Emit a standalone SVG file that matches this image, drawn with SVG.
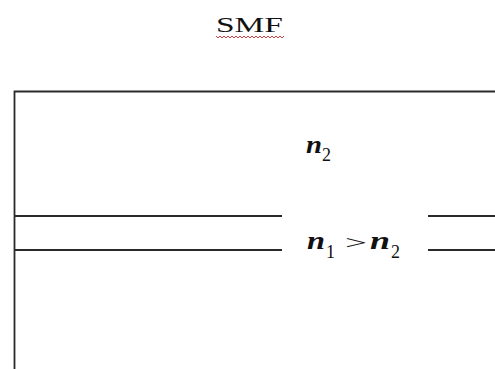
<svg xmlns="http://www.w3.org/2000/svg" width="495" height="369" viewBox="0 0 495 369">
<style>
.ln{stroke:#2a2a2a;stroke-width:1.8;fill:none}
.var{font-family:"Liberation Serif",serif;font-weight:bold;font-style:italic;fill:#111;font-size:26px}
.sub{font-family:"Liberation Serif",serif;fill:#111;font-size:18px}
</style>
<rect width="495" height="369" fill="#fff"/>
<g id="title">
<text x="216" y="32" font-family="Liberation Serif, serif" font-size="22" fill="#111" textLength="67" lengthAdjust="spacingAndGlyphs">SMF</text>
<path d="M216,36 l2,2 l2,-2 l2,2 l2,-2 l2,2 l2,-2 l2,2 l2,-2 l2,2 l2,-2 l2,2 l2,-2 l2,2 l2,-2 l2,2 l2,-2 l2,2 l2,-2 l2,2 l2,-2 l2,2 l2,-2 l2,2 l2,-2 l2,2 l2,-2 l2,2 l2,-2 l2,2 l2,-2 l2,2 l2,-2 l2,2 l2,-2" fill="none" stroke="#d04040" stroke-width="1"/>
</g>
<g id="fiber">
<path class="ln" d="M14.5,369 V91.5 H495"/>
<path class="ln" d="M14,216 H282 M14,250 H282 M428,216 H495 M428,250 H495"/>
</g>
<g id="cladding-label">
<text class="var" x="306" y="153" textLength="16" lengthAdjust="spacingAndGlyphs">n</text>
<text class="sub" x="322" y="161">2</text>
</g>
<g id="core-label">
<text class="var" x="307" y="249" textLength="18" lengthAdjust="spacingAndGlyphs">n</text>
<text class="sub" x="326" y="258">1</text>
<text class="sub" x="345" y="249" font-size="24" textLength="22" lengthAdjust="spacingAndGlyphs">&gt;</text>
<text class="var" x="370" y="249" textLength="20" lengthAdjust="spacingAndGlyphs">n</text>
<text class="sub" x="391" y="258">2</text>
</g>
</svg>
